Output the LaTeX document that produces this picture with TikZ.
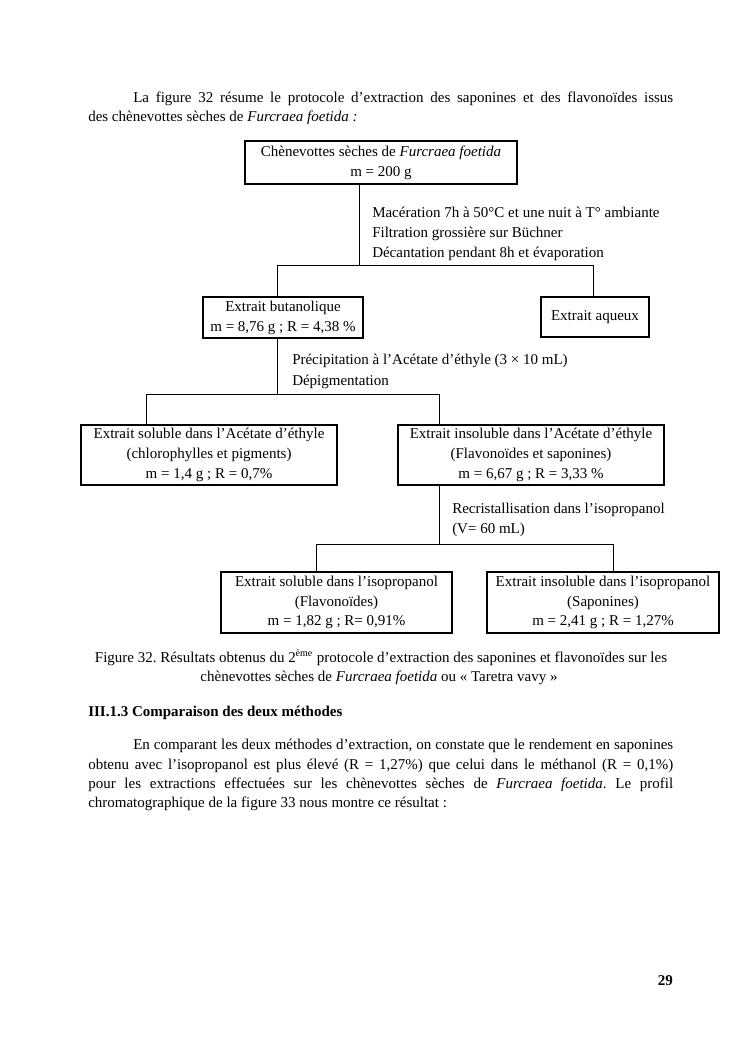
\documentclass[tikz,border=0pt]{standalone}
\usepackage{fontspec}
\setmainfont{Liberation Serif}
\frenchspacing
\begin{document}
\begin{tikzpicture}[x=0.8pt,y=-0.8pt,
  every node/.style={font=\fontsize{12}{15.9}\selectfont},
  box/.style={draw, line width=0.85pt, inner sep=0pt, align=center},
  conn/.style={line width=0.7pt},
  tl/.style={inner sep=0pt, anchor=base west},
  tc/.style={inner sep=0pt, anchor=base},
  tr/.style={inner sep=0pt, anchor=base east}]
\fill[white] (0,0) rectangle (745,1053);
\useasboundingbox (0,0) rectangle (745,1053);

% paragraph 1
\node[tl] (p1a) at (133,102) {\makebox[432pt][s]{La figure 32 résume le protocole d’extraction des saponines et des flavonoïdes issus}};
\node[tl] (p1b) at (88,121) {des chènevottes sèches de \textit{Furcraea foetida :}};

% boxes
\node[box, minimum width=217.6pt, minimum height=34.4pt] (b1) at (381,162.5) {Chènevottes sèches de \textit{Furcraea foetida}\\ m = 200 g};
\node[box, minimum width=128pt, minimum height=32.8pt] (b2) at (283,317.5) {Extrait butanolique\\ m = 8,76 g ; R = 4,38 \%};
\node[box, minimum width=86.4pt, minimum height=32pt] (b3) at (595,317) {Extrait aqueux};
\node[box, minimum width=204.8pt, minimum height=48pt] (b4) at (209,455) {Extrait soluble dans l’Acétate d’éthyle\\ (chlorophylles et pigments)\\ m = 1,4 g ; R = 0,7\%};
\node[box, minimum width=212.8pt, minimum height=48pt] (b5) at (531,455) {Extrait insoluble dans l’Acétate d’éthyle\\ (Flavonoïdes et saponines)\\ m = 6,67 g ; R = 3,33 \%};
\node[box, minimum width=184.8pt, minimum height=48.8pt] (b6) at (336.5,602.5) {Extrait soluble dans l’isopropanol\\ (Flavonoïdes)\\ m = 1,82 g ; R= 0,91\%};
\node[box, minimum width=185.6pt, minimum height=48.8pt] (b7) at (603,602.5) {Extrait insoluble dans l’isopropanol\\ (Saponines)\\ m = 2,41 g ; R = 1,27\%};

% connectors
\coordinate (j1) at (359,265);
\coordinate (j1l) at (277,265);
\coordinate (j1r) at (593,265);
\draw[conn] (j1 |- b1.south) -- (j1);
\draw[conn] (j1l |- b2.north) -- (j1l) -- (j1r) -- (j1r |- b3.north);

\coordinate (j2) at (277,394.5);
\coordinate (j2l) at (146,394.5);
\coordinate (j2r) at (439,394.5);
\draw[conn] (j2 |- b2.south) -- (j2);
\draw[conn] (j2l |- b4.north) -- (j2l) -- (j2r) -- (j2r |- b5.north);

\coordinate (j3) at (439,544);
\coordinate (j3l) at (316,544);
\coordinate (j3r) at (613,544);
\draw[conn] (j3 |- b5.south) -- (j3);
\draw[conn] (j3l |- b6.north) -- (j3l) -- (j3r) -- (j3r |- b7.north);

% labels
\node[tl] (l1a) at (372,217) {Macération 7h à 50°C et une nuit à T° ambiante};
\node[tl] (l1b) at (372,237) {Filtration grossière sur Büchner};
\node[tl] (l1c) at (372,257) {Décantation pendant 8h et évaporation};
\node[tl] (l2a) at (292,364) {Précipitation à l’Acétate d’éthyle (3 × 10 mL)};
\node[tl] (l2b) at (292,385) {Dépigmentation};
\node[tl] (l3a) at (452,513) {Recristallisation dans l’isopropanol};
\node[tl] (l3b) at (452,533) {(V= 60 mL)};

% caption
\node[tc] (c1) at (381,662) {Figure 32. Résultats obtenus du 2\textsuperscript{ème} protocole d’extraction des saponines et flavonoïdes sur les};
\node[tc] (c2) at (379,681) {chènevottes sèches de \textit{Furcraea foetida} ou « Taretra vavy »};

% heading
\node[tl] (h1) at (88,716) {\bfseries III.1.3 Comparaison des deux méthodes};

% paragraph 2
\node[tl] (p2a) at (133,749) {\makebox[432pt][s]{En comparant les deux méthodes d’extraction, on constate que le rendement en saponines}};
\node[tl] (p2b) at (88,769) {\makebox[468pt][s]{obtenu avec l’isopropanol est plus élevé (R = 1,27\%) que celui dans le méthanol (R = 0,1\%)}};
\node[tl] (p2c) at (88,788) {\makebox[468pt][s]{pour les extractions effectuées sur les chènevottes sèches de \textit{Furcraea foetida}. Le profil}};
\node[tl] (p2d) at (88,807) {chromatographique de la figure 33 nous montre ce résultat :};

% page number
\node[tr] (pn) at (673,985) {\bfseries 29};
\end{tikzpicture}
\end{document}
